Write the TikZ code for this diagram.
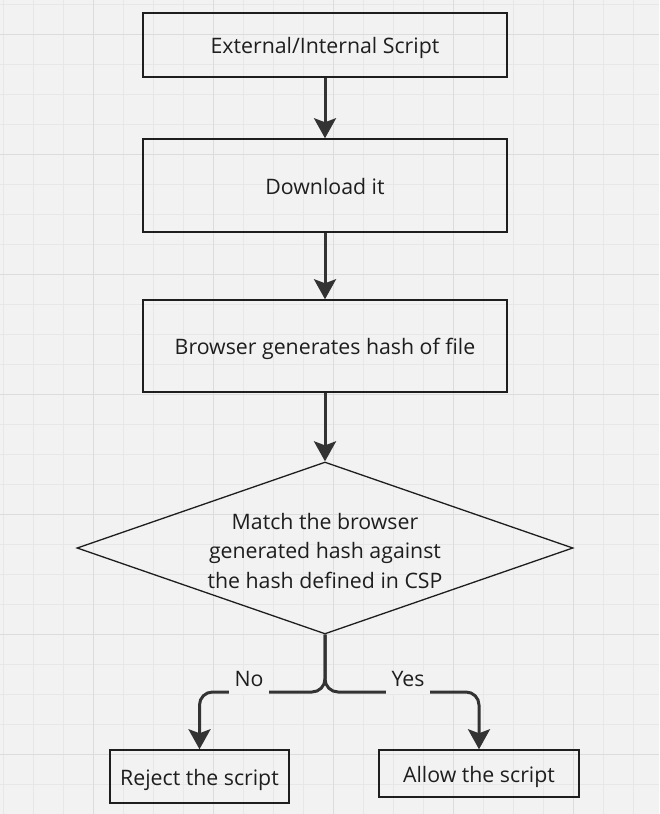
\documentclass[tikz,border=0pt]{standalone}
\usepackage{fontspec}
\setmainfont{Open Sans}
\usetikzlibrary{arrows.meta,shapes.geometric}
\definecolor{bg}{HTML}{F2F2F2}
\definecolor{gridminor}{HTML}{E7E7E7}
\definecolor{gridmajor}{HTML}{DCDCDC}
\definecolor{ink}{HTML}{1E1E1E}
\definecolor{arrowc}{HTML}{333333}
\tikzset{
  stepbox/.style={draw=ink, line width=1.5pt, rectangle, inner sep=0pt, text=ink,
    text height=20pt, text depth=3pt,
    font=\fontsize{21.3}{29.5}\selectfont},
  decision/.style={draw=ink, line width=1.3pt, shape=diamond, aspect=2.88, inner sep=0pt,
    minimum width=496pt, minimum height=172pt, text=ink,
    font=\fontsize{21.3}{29.5}\selectfont},
  flow/.style={draw=arrowc, line width=3pt, -{Stealth[width=22pt,length=20pt,inset=4pt]}},
  branch/.style={flow, rounded corners=13pt},
  lbl/.style={fill=bg, text=ink, inner xsep=6pt, inner ysep=0pt, text depth=8pt,
    font=\fontsize{21.3}{24}\selectfont, anchor=base}
}
\begin{document}
\begin{tikzpicture}[x=1pt,y=-1pt]
\useasboundingbox (0,0) rectangle (659,814);
\fill[bg] (0,0) rectangle (659,814);
% grid
\foreach \gx in {3.3,33.3,...,659} {\draw[gridminor, line width=0.8pt] (\gx,0) -- (\gx,814);}
\foreach \gy in {4,34,...,814} {\draw[gridminor, line width=0.8pt] (0,\gy) -- (659,\gy);}
\foreach \gx in {93.3,213.3,...,659} {\draw[gridmajor, line width=1pt] (\gx,0) -- (\gx,814);}
\foreach \gy in {34,154,...,814} {\draw[gridmajor, line width=1pt] (0,\gy) -- (659,\gy);}

\node[stepbox, minimum width=364pt, minimum height=64pt] (ext) at (325,45) {External/Internal Script};
\node[stepbox, minimum width=364pt, minimum height=93pt] (dl) at (325,185.5) {Download it};
\node[stepbox, minimum width=364pt, minimum height=92pt] (hash) at (325,346) {Browser generates hash of file};
\node[decision] (match) at (325,548) {\raisebox{0pt}[\dimexpr\height+5pt\relax][\dimexpr\depth-5pt\relax]{\begin{tabular}{@{}c@{}}Match the browser\\generated hash against\\the hash defined in CSP\end{tabular}}};
\node[stepbox, minimum width=179pt, minimum height=53pt] (reject) at (199.5,776.5) {Reject the script};
\node[stepbox, minimum width=200pt, minimum height=47pt] (allow) at (479,773.5) {Allow the script};

\coordinate (fork) at (325,692);

\draw[flow] (ext) -- (dl);
\draw[flow] (dl) -- (hash);
\draw[flow] (hash) -- (match.north);
\draw[branch] (match.south) -- (fork) -| (reject.north);
\draw[branch] (match.south) -- (fork) -| (allow.north);

\node[lbl] (no) at (249,686) {No};
\node[lbl] (yes) at (408,686) {Yes};
\end{tikzpicture}
\end{document}
